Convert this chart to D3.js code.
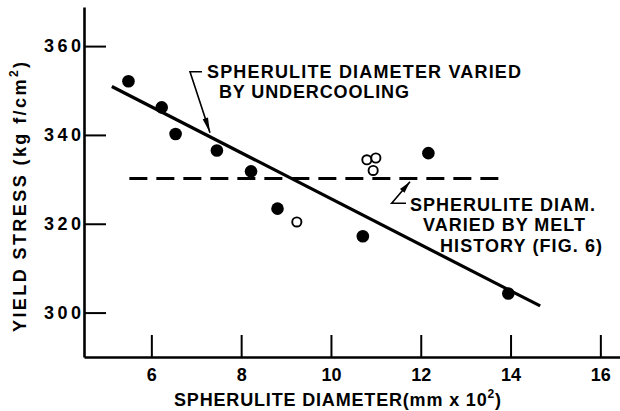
<!DOCTYPE html>
<html>
<head>
<meta charset="utf-8">
<script src="https://cdn.jsdelivr.net/npm/d3@7"></script>
<style>
  html, body { margin: 0; padding: 0; background: #fff; }
  svg { display: block; }
  text { font-family: "Liberation Sans", Arial, sans-serif; font-weight: bold; fill: #000; }
</style>
</head>
<body>
<svg id="chart" width="620" height="411"></svg>
<script>
// ---- data ----
const filledX = [5.49, 6.23, 6.54, 7.46, 8.22, 8.81, 10.71, 12.17, 13.95];
const filledY = [352.1, 346.2, 340.2, 336.5, 331.8, 323.4, 317.2, 335.9, 304.3];
const openX = [9.24, 10.80, 11.00, 10.94];
const openY = [320.4, 334.4, 334.8, 332.0];
const fitLineX = [5.12, 14.66];
const fitLineY = [350.9, 301.5];
const meltLineX = [5.51, 13.77];
const meltLineY = [330.2, 330.2];
const xTicks = [6, 8, 10, 12, 14, 16];
const yTicks = [300, 320, 340, 360];
const xTitle = ["SPHERULITE DIAMETER(mm x 10", "2", ")"];
const yTitle = ["YIELD STRESS (kg f/cm", "2", ")"];
const note1 = ["SPHERULITE DIAMETER VARIED", "BY UNDERCOOLING"];
const note2 = ["SPHERULITE DIAM.", "VARIED BY MELT", "HISTORY (FIG. 6)"];

const svg = d3.select("#chart");
const x = d3.scaleLinear().domain([4.5, 16.5]).range([84, 622.8]);
const y = d3.scaleLinear().domain([290, 368.8]).range([357, 7]);

// ---- axes ----
const xAxis = svg.append("g").attr("transform", "translate(0,357)")
  .call(d3.axisBottom(x).tickValues(xTicks).tickSizeInner(-22).tickSizeOuter(0).tickPadding(11).tickFormat(d3.format("d")));
const yAxis = svg.append("g").attr("transform", "translate(84,0)")
  .call(d3.axisLeft(y).tickValues(yTicks).tickSizeInner(-22).tickSizeOuter(0).tickPadding(3).tickFormat(d3.format("d")));
[xAxis, yAxis].forEach(g => {
  g.select(".domain").attr("stroke", "#000").attr("stroke-width", 2.6);
  g.selectAll(".tick line").attr("stroke", "#000").attr("stroke-width", 2);
  g.selectAll(".tick text").attr("font-size", 18).attr("font-family", null).attr("fill", "#000");
});
yAxis.selectAll(".tick text").attr("textLength", 37).attr("lengthAdjust", "spacing");
xAxis.selectAll(".tick text").each(function () {
  const t = d3.select(this);
  if (t.text().length > 1) t.attr("textLength", 20).attr("lengthAdjust", "spacing");
});

// ---- axis titles ----
function titled(g, parts, len) {
  const t = g.append("text").attr("font-size", 18).attr("textLength", len).attr("lengthAdjust", "spacing");
  t.append("tspan").text(parts[0]);
  t.append("tspan").attr("font-size", 12).attr("dy", -8).text(parts[1]);
  t.append("tspan").attr("dy", 8).text(parts[2]);
  return t;
}
titled(svg.append("g").attr("transform", "translate(174,406)"), xTitle, 327);
titled(svg.append("g").attr("transform", "translate(26,332) rotate(-90)"), yTitle, 270);

// ---- lines ----
svg.append("line")
  .attr("x1", x(fitLineX[0])).attr("y1", y(fitLineY[0]))
  .attr("x2", x(fitLineX[1])).attr("y2", y(fitLineY[1]))
  .attr("stroke", "#000").attr("stroke-width", 3.2);
svg.append("line")
  .attr("x1", x(meltLineX[0])).attr("y1", y(meltLineY[0]))
  .attr("x2", x(meltLineX[1])).attr("y2", y(meltLineY[1]))
  .attr("stroke", "#000").attr("stroke-width", 3)
  .attr("stroke-dasharray", "18,9");

// ---- points ----
svg.append("g").selectAll("circle").data(filledX).join("circle")
  .attr("cx", d => x(d)).attr("cy", (d, i) => y(filledY[i]))
  .attr("r", 6.3).attr("fill", "#000");
svg.append("g").selectAll("circle").data(openX).join("circle")
  .attr("cx", d => x(d)).attr("cy", (d, i) => y(openY[i]))
  .attr("r", 4.6).attr("fill", "#fff").attr("stroke", "#000").attr("stroke-width", 1.9);

// ---- annotations ----
function block(lines, xs, ys, lens) {
  lines.forEach((s, i) => {
    svg.append("text").attr("x", xs[i]).attr("y", ys[i]).attr("font-size", 18)
      .attr("textLength", lens[i]).attr("lengthAdjust", "spacing").text(s);
  });
}
block(note1, [207, 219], [78, 98], [314, 190]);
block(note2, [410, 423, 440], [211, 231, 251.5], [185, 162, 162]);

function arrowHead(x0, y0, x1, y1, len, half) {
  const dx = x1 - x0, dy = y1 - y0, L = Math.hypot(dx, dy);
  const ux = dx / L, uy = dy / L;
  const bx = x1 - ux * len, by = y1 - uy * len;
  svg.append("path")
    .attr("d", `M${x1},${y1}L${bx - uy * half},${by + ux * half}L${bx + uy * half},${by - ux * half}Z`)
    .attr("fill", "#000");
}
svg.append("path").attr("d", "M202,71.7L190,71.7L210,132.7")
  .attr("fill", "none").attr("stroke", "#000").attr("stroke-width", 1.6);
arrowHead(190, 71.7, 210, 132.7, 15, 2.8);
svg.append("path").attr("d", "M406,203.3L391.7,203.3L410,181.7")
  .attr("fill", "none").attr("stroke", "#000").attr("stroke-width", 1.6);
arrowHead(391.7, 203.3, 410, 181.7, 12, 3);
</script>
</body>
</html>
